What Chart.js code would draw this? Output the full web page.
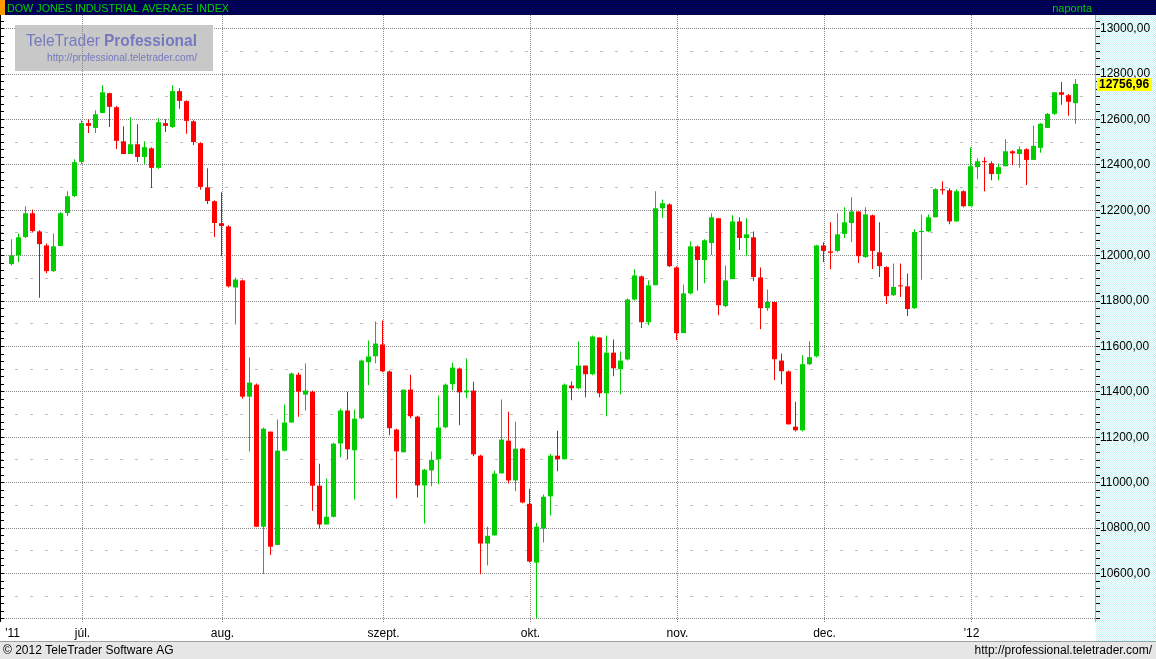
<!DOCTYPE html>
<html><head><meta charset="utf-8">
<script src="https://cdn.jsdelivr.net/npm/chart.js@4.4.1/dist/chart.umd.min.js"></script>
<style>html,body{margin:0;padding:0;background:#fff;overflow:hidden}canvas{display:block}</style>
</head><body>
<canvas id="c" width="1156" height="659"></canvas>
<script>
// ---- DATA ----
const dates = [
"2011-06-17","2011-06-20","2011-06-21","2011-06-22","2011-06-23","2011-06-24","2011-06-27","2011-06-28","2011-06-29","2011-06-30",
"2011-07-01","2011-07-05","2011-07-06","2011-07-07","2011-07-08","2011-07-11","2011-07-12","2011-07-13","2011-07-14","2011-07-15",
"2011-07-18","2011-07-19","2011-07-20","2011-07-21","2011-07-22","2011-07-25","2011-07-26","2011-07-27","2011-07-28","2011-07-29",
"2011-08-01","2011-08-02","2011-08-03","2011-08-04","2011-08-05","2011-08-08","2011-08-09","2011-08-10","2011-08-11","2011-08-12",
"2011-08-15","2011-08-16","2011-08-17","2011-08-18","2011-08-19","2011-08-22","2011-08-23","2011-08-24","2011-08-25","2011-08-26",
"2011-08-29","2011-08-30","2011-08-31","2011-09-01","2011-09-02","2011-09-06","2011-09-07","2011-09-08","2011-09-09","2011-09-12",
"2011-09-13","2011-09-14","2011-09-15","2011-09-16","2011-09-19","2011-09-20","2011-09-21","2011-09-22","2011-09-23","2011-09-26",
"2011-09-27","2011-09-28","2011-09-29","2011-09-30","2011-10-03","2011-10-04","2011-10-05","2011-10-06","2011-10-07","2011-10-10",
"2011-10-11","2011-10-12","2011-10-13","2011-10-14","2011-10-17","2011-10-18","2011-10-19","2011-10-20","2011-10-21","2011-10-24",
"2011-10-25","2011-10-26","2011-10-27","2011-10-28","2011-10-31","2011-11-01","2011-11-02","2011-11-03","2011-11-04","2011-11-07",
"2011-11-08","2011-11-09","2011-11-10","2011-11-11","2011-11-14","2011-11-15","2011-11-16","2011-11-17","2011-11-18","2011-11-21",
"2011-11-22","2011-11-23","2011-11-25","2011-11-28","2011-11-29","2011-11-30","2011-12-01","2011-12-02","2011-12-05","2011-12-06",
"2011-12-07","2011-12-08","2011-12-09","2011-12-12","2011-12-13","2011-12-14","2011-12-15","2011-12-16","2011-12-19","2011-12-20",
"2011-12-21","2011-12-22","2011-12-23","2011-12-27","2011-12-28","2011-12-29","2011-12-30","2012-01-03","2012-01-04","2012-01-05",
"2012-01-06","2012-01-09","2012-01-10","2012-01-11","2012-01-12","2012-01-13","2012-01-17","2012-01-18","2012-01-19","2012-01-20",
"2012-01-23","2012-01-24","2012-01-25"];

const openV = [
11963,12001,12082,12187,12107,12045,11932,12043,12188,12263,
12413,12584,12563,12629,12716,12654,12504,12448,12491,12435,
12473,12387,12584,12567,12725,12681,12592,12496,12301,12240,
12143,12129,11860,11891,11379,11432,10806,11225,10726,11141,
11265,11476,11388,11401,10987,10816,10850,11173,11318,11143,
11284,11531,11557,11609,11490,11234,11134,11410,11291,10988,
11054,11103,11244,11434,11503,11398,11406,11119,10732,10768,
11041,11185,11010,11150,10907,10648,10798,10940,11119,11103,
11428,11416,11516,11478,11640,11394,11573,11500,11543,11807,
11909,11707,11870,12209,12226,11948,11659,11834,12041,11981,
12056,12165,11778,11897,12151,12078,12081,11904,11769,11796,
11538,11490,11247,11231,11522,11557,12045,12019,12021,12096,
12144,12195,11994,12178,12015,11950,11826,11869,11865,11769,
12104,12107,12169,12293,12288,12151,12284,12218,12390,12416,
12407,12360,12394,12460,12448,12469,12422,12475,12563,12625,
12720,12707,12672];

const highV = [
12072,12098,12218,12203,12112,12054,12098,12191,12284,12425,
12597,12601,12641,12751,12718,12659,12570,12610,12579,12504,
12478,12606,12601,12751,12738,12685,12597,12500,12385,12244,
12279,12134,11904,11895,11551,11437,11243,11226,11278,11344,
11485,11485,11525,11406,11084,11018,11176,11326,11401,11322,
11543,11626,11710,11715,11494,11238,11410,11476,11295,11062,
11137,11384,11437,11529,11507,11547,11445,11123,10806,11053,
11366,11313,11269,11154,10973,10823,10948,11128,11229,11437,
11446,11622,11516,11648,11640,11648,11631,11578,11812,11940,
11913,11891,12284,12248,12231,11953,11873,12063,12045,12072,
12187,12165,11957,12178,12169,12165,12107,11948,11851,11796,
11569,11494,11357,11562,11623,12048,12059,12147,12187,12213,
12257,12195,12213,12182,12147,11954,11966,11966,11922,12116,
12182,12182,12297,12328,12297,12293,12288,12478,12429,12434,
12416,12407,12513,12465,12482,12473,12572,12585,12629,12720,
12765,12712,12778];

const lowV = [
11957,11972,12078,12103,11815,11923,11928,12042,12175,12259,
12404,12541,12541,12629,12567,12470,12448,12448,12413,12404,
12298,12382,12545,12563,12647,12537,12488,12290,12228,12082,
11998,11860,11697,11370,11137,10806,10598,10682,10726,11137,
11265,11291,11318,10876,10798,10816,10847,11112,11103,10926,
11279,11429,11526,11487,11209,10931,11134,11284,10935,10820,
10984,10993,11240,11407,11253,11372,11116,10597,10635,10767,
11041,10997,10962,10909,10648,10401,10737,10856,11050,11103,
11363,11412,11376,11473,11376,11293,11469,11390,11538,11803,
11681,11694,11870,12166,11950,11628,11659,11829,11847,11879,
12003,11738,11773,11897,12025,11998,11888,11676,11756,11451,
11434,11257,11226,11226,11518,11552,11972,11940,12015,12078,
12060,11968,11990,11941,11906,11787,11822,11818,11734,11765,
11894,12103,12169,12270,12138,12151,12213,12218,12337,12284,
12332,12332,12394,12398,12387,12312,12422,12453,12563,12620,
12665,12616,12581];

const closeV = [
12001,12081,12187,12109,12051,11932,12041,12187,12262,12412,
12584,12572,12623,12720,12656,12506,12448,12491,12435,12478,
12387,12588,12572,12725,12682,12594,12501,12303,12241,12144,
12131,11865,11895,11379,11441,10806,11238,10718,11141,11265,
11481,11401,11406,10987,10816,10850,11172,11318,11147,11282,
11538,11556,11613,11491,11240,11138,11410,11293,10988,11057,
11101,11243,11432,11507,11398,11406,11125,10732,10766,11040,
11190,11010,11150,10913,10653,10806,10938,11119,11103,11432,
11416,11516,11478,11644,11394,11573,11504,11538,11807,11913,
11707,11869,12209,12231,11954,11659,11834,12041,11981,12068,
12169,11782,11891,12151,12078,12094,11906,11769,11796,11544,
11491,11257,11231,11522,11553,12045,12021,12013,12094,12147,
12195,11998,12182,12021,11954,11822,11862,11865,11765,12104,
12109,12169,12293,12288,12151,12284,12218,12394,12416,12412,
12360,12390,12460,12451,12469,12422,12484,12581,12625,12720,
12709,12678,12757];

const monthTickIdx = [0, 10, 30, 53, 74, 95, 116, 137];
const monthTickLabels = ["'11", "júl.", "aug.", "szept.", "okt.", "nov.", "dec.", "'12"];
const yTickValues = [10600, 10800, 11000, 11200, 11400, 11600, 11800, 12000, 12200, 12400, 12600, 12800, 13000];
const lastPrice = 12756.96;
const titleText = "DOW JONES INDUSTRIAL AVERAGE INDEX";
const periodText = "naponta";

// ---- GEOMETRY ----
const W = 1156, H = 659;
const PX_PER_BAR = 7, FIRST_X = 11.5, PLOT_RIGHT = 1096;
const X_MIN = -FIRST_X / PX_PER_BAR;
const X_MAX = X_MIN + PLOT_RIGHT / PX_PER_BAR;
const PLOT_TOP = 15, PLOT_BOTTOM = 622;
const PX_PER_UNIT = 0.227, REF_V = 12600, REF_Y = 119.5;
const Y_MAX = REF_V + (REF_Y - PLOT_TOP) / PX_PER_UNIT;
const Y_MIN = REF_V - (PLOT_BOTTOM - REF_Y) / PX_PER_UNIT;

const UP = '#00cc00', DOWN = '#ff0000';
const colors = openV.map((o, i) => closeV[i] >= o ? UP : DOWN);
const bodies = openV.map((o, i) => ({x: i, y: [o, closeV[i]]}));
const wicks = lowV.map((l, i) => ({x: i, y: [l, highV[i]]}));

function makePattern(base, dot) {
  const p = document.createElement('canvas'); p.width = 2; p.height = 2;
  const g = p.getContext('2d');
  g.fillStyle = base; g.fillRect(0, 0, 2, 2);
  g.fillStyle = dot; g.fillRect(0, 0, 1, 1); g.fillRect(1, 1, 1, 1);
  return p;
}
function fitText(ctx, text, x, y, width, font) {
  ctx.font = font;
  const w = ctx.measureText(text).width;
  ctx.save();
  ctx.translate(x, y);
  ctx.scale(width / w, 1);
  ctx.fillText(text, 0, 0);
  ctx.restore();
}

const decor = {
  id: 'decor',
  beforeDraw(chart) {
    const ctx = chart.ctx, a = chart.chartArea;
    ctx.save();
    ctx.fillStyle = '#ffffff'; ctx.fillRect(0, 0, W, H);
    ctx.fillStyle = ctx.createPattern(makePattern('#ffffff', '#c2f2f2'), 'repeat');
    ctx.fillRect(a.right, a.top, W - a.right, 641 - a.top);
    ctx.fillStyle = ctx.createPattern(makePattern('#00006e', '#00003c'), 'repeat');
    ctx.fillRect(0, 0, W, 15);
    ctx.fillStyle = '#ff9900'; ctx.fillRect(0, 0, 5, 15);
    ctx.fillStyle = '#e6e6e6'; ctx.fillRect(0, 641, W, H - 641);
    ctx.fillStyle = '#a0a0a0'; ctx.fillRect(0, 641, W, 1);
    ctx.restore();
  },
  beforeDatasetsDraw(chart) {
    const ctx = chart.ctx, a = chart.chartArea, ys = chart.scales.y, xs = chart.scales.x;
    ctx.save();
    ctx.beginPath(); ctx.rect(a.left, a.top, a.right - a.left, a.bottom - a.top); ctx.clip();
    ctx.lineWidth = 1;
    ctx.strokeStyle = '#c0c0c0'; ctx.setLineDash([3, 12]);
    for (let v = 10500; v < 13100; v += 200) {
      const p = Math.floor(ys.getPixelForValue(v)) + 0.5;
      ctx.beginPath(); ctx.moveTo(a.left, p); ctx.lineTo(a.right, p); ctx.stroke();
    }
    ctx.strokeStyle = '#8a8a8a'; ctx.setLineDash([1, 1]);
    for (let v = 10400; v <= 13000; v += 200) {
      const p = Math.floor(ys.getPixelForValue(v)) + 0.5;
      ctx.beginPath(); ctx.moveTo(a.left, p); ctx.lineTo(a.right, p); ctx.stroke();
    }
    ctx.setLineDash([]);
    ctx.fillStyle = '#c8c8c8'; ctx.fillRect(15, 25, 198, 46);
    ctx.fillStyle = '#7479c0';
    ctx.textBaseline = 'alphabetic'; ctx.textAlign = 'left';
    fitText(ctx, 'TeleTrader', 26, 46, 74, '17px Arial');
    fitText(ctx, 'Professional', 104, 46, 93, 'bold 17px Arial');
    fitText(ctx, 'http://professional.teletrader.com/', 47, 61, 150, '11px Arial');
    ctx.strokeStyle = '#8a8a8a'; ctx.setLineDash([1, 1]);
    monthTickIdx.slice(1).forEach(i => {
      const p = Math.floor(xs.getPixelForValue(i)) + 1.5;
      ctx.beginPath(); ctx.moveTo(p, a.top); ctx.lineTo(p, a.bottom); ctx.stroke();
    });
    ctx.restore();
  },
  afterDraw(chart) {
    const ctx = chart.ctx, a = chart.chartArea, ys = chart.scales.y;
    ctx.save();
    ctx.fillStyle = '#000';
    ctx.fillRect(0, a.top, 1, a.bottom - a.top);
    ctx.fillStyle = '#e8a020'; ctx.fillRect(a.right - 1, a.top, 1, a.bottom - a.top);
    ctx.fillStyle = '#000';
    const step = 200 / 6;
    for (let v = 13000 + 2 * step; v > Y_MIN; v -= step) {
      const p = Math.floor(ys.getPixelForValue(v));
      if (p < a.top || p > a.bottom) continue;
      ctx.fillRect(0, p, 4, 1);
      ctx.fillRect(a.right, p, 4, 1);
    }
    ctx.fillStyle = '#00d000'; ctx.textBaseline = 'alphabetic';
    fitText(ctx, titleText, 7, 12, 222, '11px Arial');
    ctx.font = '11px Arial'; ctx.textAlign = 'right';
    ctx.fillText(periodText, 1092, 12);
    const py = ys.getPixelForValue(lastPrice);
    ctx.fillStyle = '#ffff00';
    ctx.fillRect(a.right + 1, Math.round(py) - 6, 55, 13);
    ctx.fillStyle = '#000'; ctx.textAlign = 'left'; ctx.textBaseline = 'middle';
    ctx.font = 'bold 12px Arial';
    ctx.fillText(lastPrice.toFixed(2).replace('.', ','), a.right + 3, Math.round(py) + 0.5);
    ctx.font = '12px Arial'; ctx.textBaseline = 'alphabetic';
    ctx.textAlign = 'left'; ctx.fillText('\u00A9 2012 TeleTrader Software AG', 3, 654);
    ctx.textAlign = 'right'; ctx.fillText('http://professional.teletrader.com/', 1152, 654);
    ctx.restore();
  }
};

new Chart(document.getElementById('c').getContext('2d'), {
  type: 'bar',
  data: {
    datasets: [
      {label: 'body', data: bodies, backgroundColor: colors, barThickness: 5, grouped: false,
       minBarLength: 1, inflateAmount: 0, borderWidth: 0},
      {label: 'wick', data: wicks, backgroundColor: colors, barThickness: 1, grouped: false,
       inflateAmount: 0, borderWidth: 0}
    ]
  },
  options: {
    responsive: false, animation: false, devicePixelRatio: 1,
    layout: {padding: {top: PLOT_TOP, left: 0, right: 0, bottom: 0}},
    plugins: {legend: {display: false}, tooltip: {enabled: false}},
    scales: {
      x: {
        type: 'linear', position: 'bottom', min: X_MIN, max: X_MAX, offset: false,
        grid: {display: false, drawTicks: false, offset: false}, border: {display: false},
        afterBuildTicks: s => { s.ticks = monthTickIdx.map(i => ({value: i + 1 / 7})); },
        afterFit: s => { s.height = H - PLOT_BOTTOM; },
        ticks: {autoSkip: false, maxRotation: 0, padding: 4, color: '#000',
                font: {family: 'Arial', size: 12},
                callback: (v, idx) => monthTickLabels[idx]}
      },
      y: {
        type: 'linear', position: 'right', min: Y_MIN, max: Y_MAX,
        grid: {display: false, drawTicks: false}, border: {display: false},
        afterBuildTicks: s => { s.ticks = yTickValues.map(v => ({value: v})); },
        afterFit: s => { s.width = W - PLOT_RIGHT; },
        ticks: {padding: 4, color: '#000', font: {family: 'Arial', size: 12},
                callback: v => v.toFixed(2).replace('.', ',')}
      }
    }
  },
  plugins: [decor]
});
</script>
</body></html>
